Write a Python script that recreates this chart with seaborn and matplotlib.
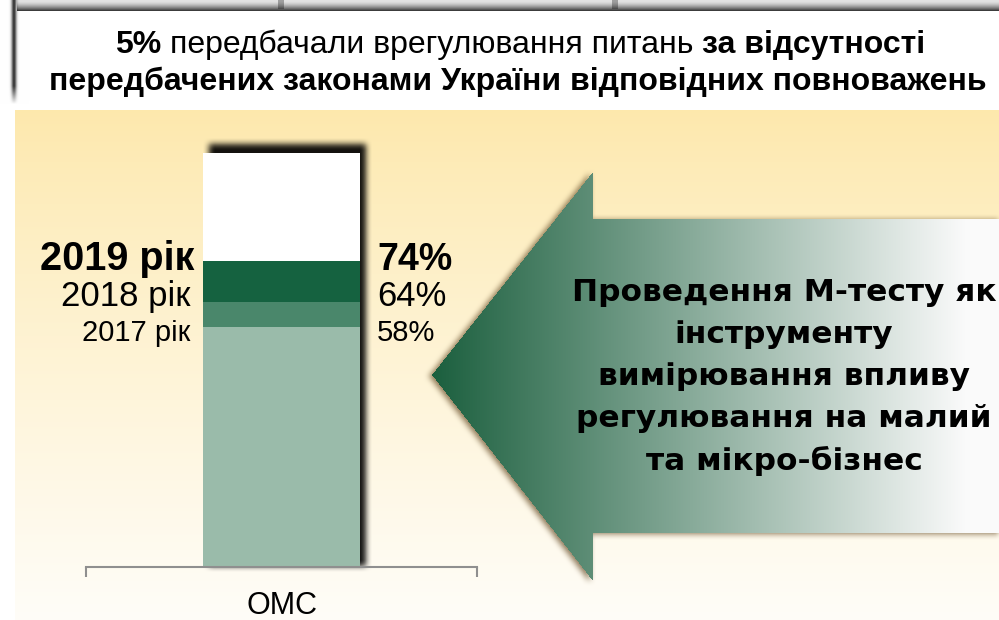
import numpy as np
import pandas as pd
import seaborn as sns
import matplotlib.pyplot as plt
from matplotlib.path import Path

# дані
categories = ["ОМС"]
years = ["2017 рік", "2018 рік", "2019 рік"]
shares = [58, 64, 74]
total = 100
year_colors = ["#9abbaa", "#4a876b", "#156240"]

title_line1 = [("5%", "bold"), ("передбачали врегулювання питань", "normal"), ("за відсутності", "bold")]
title_line2 = "передбачених законами України відповідних повноважень"
arrow_lines = ["Проведення М-тесту як", "інструменту", "вимірювання впливу",
               "регулювання на малий", "та мікро-бізнес"]

W, H = 999, 620
sns.set_theme(style="white")
plt.rcParams['font.family'] = ['Liberation Sans', 'DejaVu Sans']
plt.rcParams['text.color'] = 'black'


def blur(a, r, n=2):
    k = np.ones(2 * r + 1) / (2 * r + 1)
    for _ in range(n):
        a = np.apply_along_axis(lambda m: np.convolve(m, k, mode='same'), 0, a)
        a = np.apply_along_axis(lambda m: np.convolve(m, k, mode='same'), 1, a)
    return a


def hex2rgb(h):
    h = h.lstrip('#')
    return np.array([int(h[i:i + 2], 16) / 255 for i in (0, 2, 4)])


fig = plt.figure(figsize=(W / 100, H / 100), dpi=100)
bg = fig.add_axes([0, 0, 1, 1])
bg.axis('off')

yy, xx = np.mgrid[0:H, 0:W] + 0.5
img = np.ones((H, W, 3))

# верхня смуга (тіні блоків над заголовком)
strip = (yy < 11) & (xx >= 17)
shade = np.clip((yy - 1) / 10, 0, 1) ** 1.6
top = (1 - shade)[..., None] * hex2rgb("#e2e2e2") + shade[..., None] * hex2rgb("#2e2e2e")
img[strip] = top[strip]
for dx in (284, 618):
    band = strip & (xx > dx - 6) & (xx < dx) & (yy < 9)
    img[band] = img[band] * 0.7

# тінь зліва від заголовка
prof = np.exp(-((xx - 14) / 2.6) ** 2) * np.clip((104 - yy) / 18, 0, 1)
img = img * (1 - 0.78 * prof)[..., None]

# жовта панель з градієнтом
yellow, light = hex2rgb("#fde8ac"), hex2rgb("#fffdf8")
t = np.clip((yy - 110) / (H - 110), 0, 1) ** 0.85
panel = (1 - t)[..., None] * yellow + t[..., None] * light
pm = (yy >= 110) & (xx >= 15)
img[pm] = panel[pm]

# тінь стовпця
sh = ((xx >= 209) & (xx <= 366) & (yy >= 144) & (yy <= 566)).astype(float)
sh = blur(sh, 3)
img = img * (1 - 0.92 * sh)[..., None]

# стрілка
verts = [(432, 375), (593, 172), (593, 219), (1010, 219), (1010, 533), (593, 533), (593, 581)]
pts = np.column_stack([xx.ravel(), yy.ravel()])
shadow_path = Path([(x - 3, y + 1) for x, y in verts])
am = Path(verts).contains_points(pts).reshape(H, W)
smask = blur(shadow_path.contains_points(pts).reshape(H, W).astype(float), 3)
brown = hex2rgb("#6e5530")
a = 0.78 * smask
img = img * (1 - a)[..., None] + brown * a[..., None]
g = np.clip((xx - 432) / (965 - 432), 0, 1)
arrow_col = (1 - g)[..., None] * hex2rgb("#1b5f3e") + g[..., None] * hex2rgb("#fafafa")
img[am] = arrow_col[am]

bg.imshow(img, extent=(0, W, H, 0), interpolation='bilinear')
bg.set_xlim(0, W)
bg.set_ylim(H, 0)

# заголовок
r = fig.canvas.get_renderer()


def width(s, weight, fs=23):
    tt = bg.text(0, 0, s, fontsize=fs, fontweight=weight)
    w = tt.get_window_extent(r).width
    tt.remove()
    return w


space = width("x x", "normal") - width("xx", "normal")
ws = [width(s, wgt) for s, wgt in title_line1]
x0 = 520 - (sum(ws) + 2 * space) / 2
for (s, wgt), w in zip(title_line1, ws):
    bg.text(x0, 53, s, fontsize=23, fontweight=wgt, va='baseline', ha='left')
    x0 += w + space
bg.text(518, 90, title_line2, fontsize=23, fontweight='bold', va='baseline', ha='center')

# текст у стрілці
arrow_y = [301, 343, 385, 427, 470]
for s, y in zip(arrow_lines, arrow_y):
    bg.text(784, y, s, fontsize=22.5, fontweight='bold', ha='center', va='baseline',
            family='DejaVu Sans')

# стовпчикова діаграма
ax = fig.add_axes([86 / W, (H - 567) / H, 391 / W, (567 - 153) / H])
ax.patch.set_alpha(0)
layers = pd.DataFrame({
    "cat": categories * 4,
    "value": [total] + shares[::-1],
    "color": ["white"] + year_colors[::-1],
})
for _, row in layers.iterrows():
    sns.barplot(x=[row["cat"]], y=[row["value"]], color=row["color"], saturation=1,
                width=0.4, errorbar=None, linewidth=0, ax=ax)
ax.set_xlim(-0.5, 0.5)
ax.set_ylim(0, 100)
ax.set_xlabel("")
ax.set_ylabel("")
ax.set_yticks([])
for side in ("top", "left", "right"):
    ax.spines[side].set_visible(False)
ax.spines["bottom"].set_color("#8f8f8f")
ax.spines["bottom"].set_linewidth(1.5)
ax.set_xticks([-0.5, 0.5], minor=True)
ax.tick_params(axis='x', which='minor', bottom=True, length=7, width=1.5, color="#8f8f8f", direction='out')
ax.tick_params(axis='x', which='major', length=0, pad=17, labelsize=22, labelcolor='black')

# (розмір підпису року, розмір відсотка, накреслення, зсув)
label_style = [(21, 21, 'normal', -3.3), (25, 25, 'normal', -1.0), (28.5, 27, 'bold', -2.3)]
for yr, v, (fy, fp, wgt, off) in zip(years, shares, label_style):
    xl = -0.224 if wgt == 'bold' else -0.233
    ax.text(xl, v + off, yr, fontsize=fy, fontweight=wgt, ha='right', va='baseline')
    ax.text(0.244, v + off, f"{v}%", fontsize=fp, fontweight=wgt, ha='left', va='baseline')

fig.savefig("out.png", dpi=100)
